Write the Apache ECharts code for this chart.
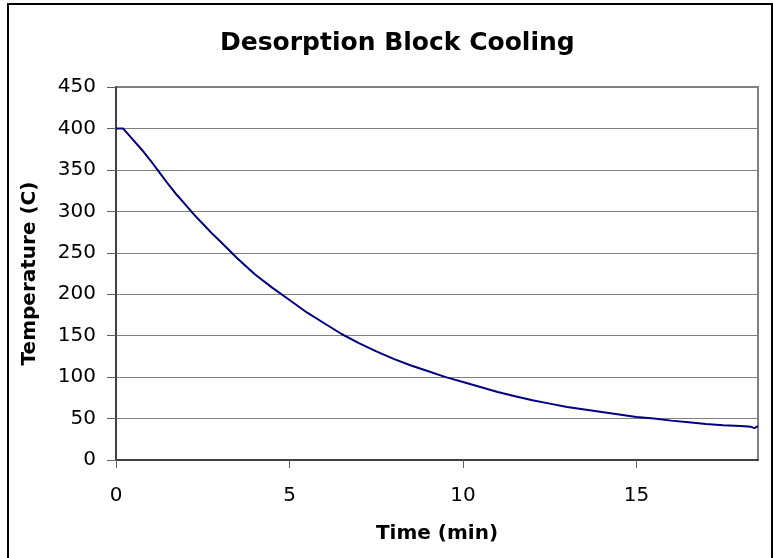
<!DOCTYPE html>
<html>
<head>
<meta charset="utf-8">
<script src="https://cdn.jsdelivr.net/npm/echarts@6/dist/echarts.min.js"></script>
<style>
html,body{margin:0;padding:0;background:#fff;}
#c{width:773px;height:558px;}
</style>
</head>
<body>
<div id="c"></div>
<script>
const titleText = 'Desorption Block Cooling';
const xName = 'Time (min)';
const yName = 'Temperature (C)';
const timeMin = [0, 0.2, 0.5, 0.75, 1.0, 1.25, 1.5, 1.75, 2.0, 2.25, 2.5, 2.75, 3.0, 3.5, 4.0, 4.5, 5.0, 5.5, 6.0, 6.5, 7.0, 7.5, 8.0, 8.5, 9.0, 9.5, 10.0, 10.5, 11.0, 11.5, 12.0, 12.5, 13.0, 13.5, 14.0, 14.5, 15.0, 15.5, 16.0, 16.5, 17.0, 17.5, 18.0, 18.3, 18.4, 18.5];
const tempC = [400, 400, 386, 374, 361, 347, 333, 320, 308, 296, 285, 274, 264, 243, 224, 208, 193, 178, 165, 152, 141, 131, 122, 114, 107, 100, 94, 88, 82, 77, 72, 68, 64, 61, 58, 55, 52, 50, 47.5, 45.5, 43.5, 42, 41, 40, 38.5, 41];
const xTicks = [0, 5, 10, 15];
const yTicks = [0, 50, 100, 150, 200, 250, 300, 350, 400, 450];

const chart = echarts.init(document.getElementById('c'), null, {renderer: 'canvas'});
const data = timeMin.map((t, i) => [t, tempC[i]]);
const option = {
  backgroundColor: '#ffffff',
  animation: false,
  graphic: [{
    type: 'rect',
    shape: {x: 8, y: 4, width: 764, height: 600},
    style: {fill: 'none', stroke: '#000000', lineWidth: 2},
    silent: true,
    z: 0
  }],
  title: {
    text: titleText,
    left: 215,
    top: 26,
    textStyle: {fontFamily: 'DejaVu Sans', fontWeight: 'bold', fontSize: 25, color: '#000'}
  },
  grid: {
    left: 116, top: 87, right: 15, bottom: 98,
    show: true, borderColor: '#808080', borderWidth: 2, backgroundColor: 'transparent'
  },
  xAxis: {
    type: 'value',
    min: 0, max: 18.5, interval: 5,
    name: xName,
    nameLocation: 'middle',
    nameGap: 64,
    nameTextStyle: {fontFamily: 'DejaVu Sans', fontWeight: 'bold', fontSize: 20, color: '#000'},
    axisLine: {show: true, onZero: false, lineStyle: {color: '#404040', width: 2}},
    axisTick: {show: true, inside: false, length: 8, lineStyle: {color: '#606060', width: 1}},
    axisLabel: {
      margin: 26, fontFamily: 'DejaVu Sans', fontSize: 20, color: '#000',
      showMaxLabel: false,
      formatter: v => (xTicks.indexOf(v) >= 0 ? String(v) : '')
    },
    splitLine: {show: false}
  },
  yAxis: {
    type: 'value',
    min: 0, max: 450, interval: 50,
    name: yName,
    nameLocation: 'middle',
    nameGap: 76,
    nameRotate: 90,
    nameTextStyle: {fontFamily: 'DejaVu Sans', fontWeight: 'bold', fontSize: 20, color: '#000'},
    axisLine: {show: true, lineStyle: {color: '#404040', width: 2}},
    axisTick: {show: true, inside: false, length: 9, lineStyle: {color: '#606060', width: 1}},
    axisLabel: {
      margin: 20, fontFamily: 'DejaVu Sans', fontSize: 20, color: '#000',
      formatter: v => (yTicks.indexOf(v) >= 0 ? String(v) : '')
    },
    splitLine: {show: true, lineStyle: {color: '#808080', width: 1}}
  },
  series: [{
    type: 'line',
    data: data,
    showSymbol: false,
    symbol: 'none',
    smooth: false,
    lineStyle: {color: '#000080', width: 2},
    itemStyle: {color: '#000080'},
    z: 3
  }]
};
chart.setOption(option);
</script>
</body>
</html>
